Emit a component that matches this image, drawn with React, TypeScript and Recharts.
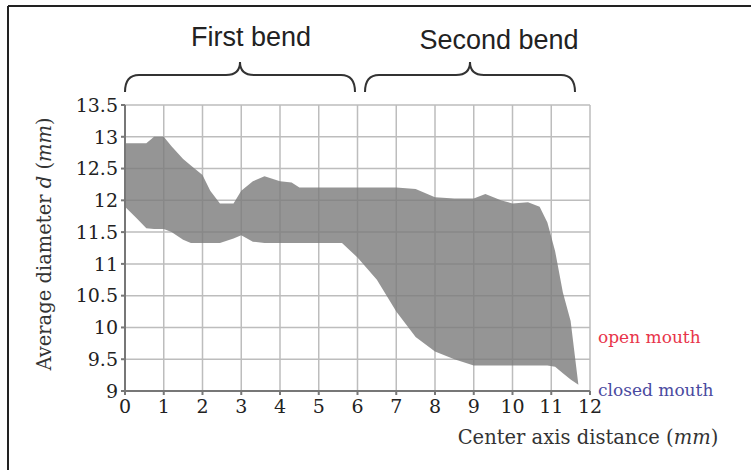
import React from 'react';
import { ComposedChart, Area, XAxis, YAxis, CartesianGrid } from 'recharts';

// distance along the centre axis (mm)
const xs = [0, 0.3, 0.55, 0.75, 1.0, 1.2, 1.5, 1.7, 2.0, 2.2, 2.45, 2.8, 3.0, 3.3, 3.6, 4.0, 4.3, 4.5, 5.0, 5.6, 6.0, 6.5, 7.0, 7.5, 8.0, 8.5, 9.0, 9.3, 9.7, 10.0, 10.4, 10.7, 10.9, 11.1, 11.3, 11.5, 11.7];
// open mouth (upper edge of the band)
const upper = [12.9, 12.9, 12.9, 13.0, 13.0, 12.85, 12.65, 12.55, 12.4, 12.15, 11.95, 11.95, 12.15, 12.3, 12.38, 12.3, 12.28, 12.2, 12.2, 12.2, 12.2, 12.2, 12.2, 12.18, 12.05, 12.03, 12.03, 12.1, 12.0, 11.95, 11.97, 11.9, 11.65, 11.2, 10.55, 10.1, 9.1];
// closed mouth (lower edge of the band)
const lower = [11.9, 11.72, 11.56, 11.55, 11.55, 11.5, 11.38, 11.33, 11.33, 11.33, 11.33, 11.4, 11.45, 11.35, 11.33, 11.33, 11.33, 11.33, 11.33, 11.33, 11.1, 10.75, 10.25, 9.85, 9.62, 9.5, 9.4, 9.4, 9.4, 9.4, 9.4, 9.4, 9.4, 9.38, 9.28, 9.18, 9.1];

const xTicks = [0, 1, 2, 3, 4, 5, 6, 7, 8, 9, 10, 11, 12];
const yTicks = [9, 9.5, 10, 10.5, 11, 11.5, 12, 12.5, 13, 13.5];

const data = xs.map((x, i) => ({ x, band: [lower[i], upper[i]] }));

const serif = '"DejaVu Serif", serif';
const sans = '"Liberation Sans", Arial, sans-serif';

// curly brace opening downwards, from x1 to x2, tip at top
const brace = (x1: number, x2: number, yEnd: number, yMid: number, yTip: number) => {
  const m = (x1 + x2) / 2;
  return `M${x1},${yEnd} Q${x1},${yMid} ${x1 + 14},${yMid} L${m - 14},${yMid} Q${m},${yMid} ${m},${yTip} Q${m},${yMid} ${m + 14},${yMid} L${x2 - 14},${yMid} Q${x2},${yMid} ${x2},${yEnd}`;
};

export default function App() {
  return (
    <div style={{ position: 'relative', width: 751, height: 470, background: '#fff', overflow: 'hidden' }}>
      <style>{'body{margin:0}'}</style>
      <ComposedChart width={751} height={470} data={data} margin={{ top: 105, right: 161, bottom: 49, left: 65 }}>
        <CartesianGrid stroke="#bdbdbd" strokeWidth={1.5} />
        <XAxis
          type="number"
          dataKey="x"
          domain={[0, 12]}
          ticks={xTicks}
          interval={0}
          tick={{ fill: '#222', fontSize: 19, fontFamily: serif }}
          tickSize={4}
          tickMargin={5}
          stroke="#777"
          strokeWidth={2}
        />
        <YAxis
          type="number"
          domain={[9, 13.5]}
          ticks={yTicks}
          interval={0}
          width={60}
          tick={{ fill: '#222', fontSize: 19, fontFamily: serif }}
          tickSize={4}
          tickMargin={3}
          stroke="#777"
          strokeWidth={2}
        />
        <Area
          type="linear"
          dataKey="band"
          stroke="none"
          fill="#7a7a7a"
          fillOpacity={0.8}
          isAnimationActive={false}
        />
      </ComposedChart>
      <svg width={751} height={470} style={{ position: 'absolute', left: 0, top: 0, pointerEvents: 'none' }}>
        <line x1={8} y1={6} x2={751} y2={6} stroke="#222" strokeWidth={2} />
        <line x1={8} y1={6} x2={8} y2={470} stroke="#222" strokeWidth={2} />
        <path d={brace(125, 355, 92, 75, 62)} fill="none" stroke="#333" strokeWidth={2} />
        <path d={brace(365, 575, 92, 75, 62)} fill="none" stroke="#333" strokeWidth={2} />
        <text x={251} y={46} textAnchor="middle" fontFamily={sans} fontSize={27} fill="#222">First bend</text>
        <text x={499} y={49} textAnchor="middle" fontFamily={sans} fontSize={27} fill="#222">Second bend</text>
        <text x={598} y={343} fontFamily={serif} fontSize={17} fill="#e8344a">open mouth</text>
        <text x={598} y={396} fontFamily={serif} fontSize={17} fill="#4a4aa0">closed mouth</text>
        <text x={588} y={444} textAnchor="middle" fontFamily={serif} fontSize={19.5} fill="#333">
          Center axis distance (<tspan fontStyle="italic">mm</tspan>)
        </text>
        <text x={0} y={0} transform="translate(51,244) rotate(-90)" textAnchor="middle" fontFamily={serif} fontSize={19.5} fill="#333">
          Average diameter <tspan fontStyle="italic">d</tspan> (<tspan fontStyle="italic">mm</tspan>)
        </text>
      </svg>
    </div>
  );
}
